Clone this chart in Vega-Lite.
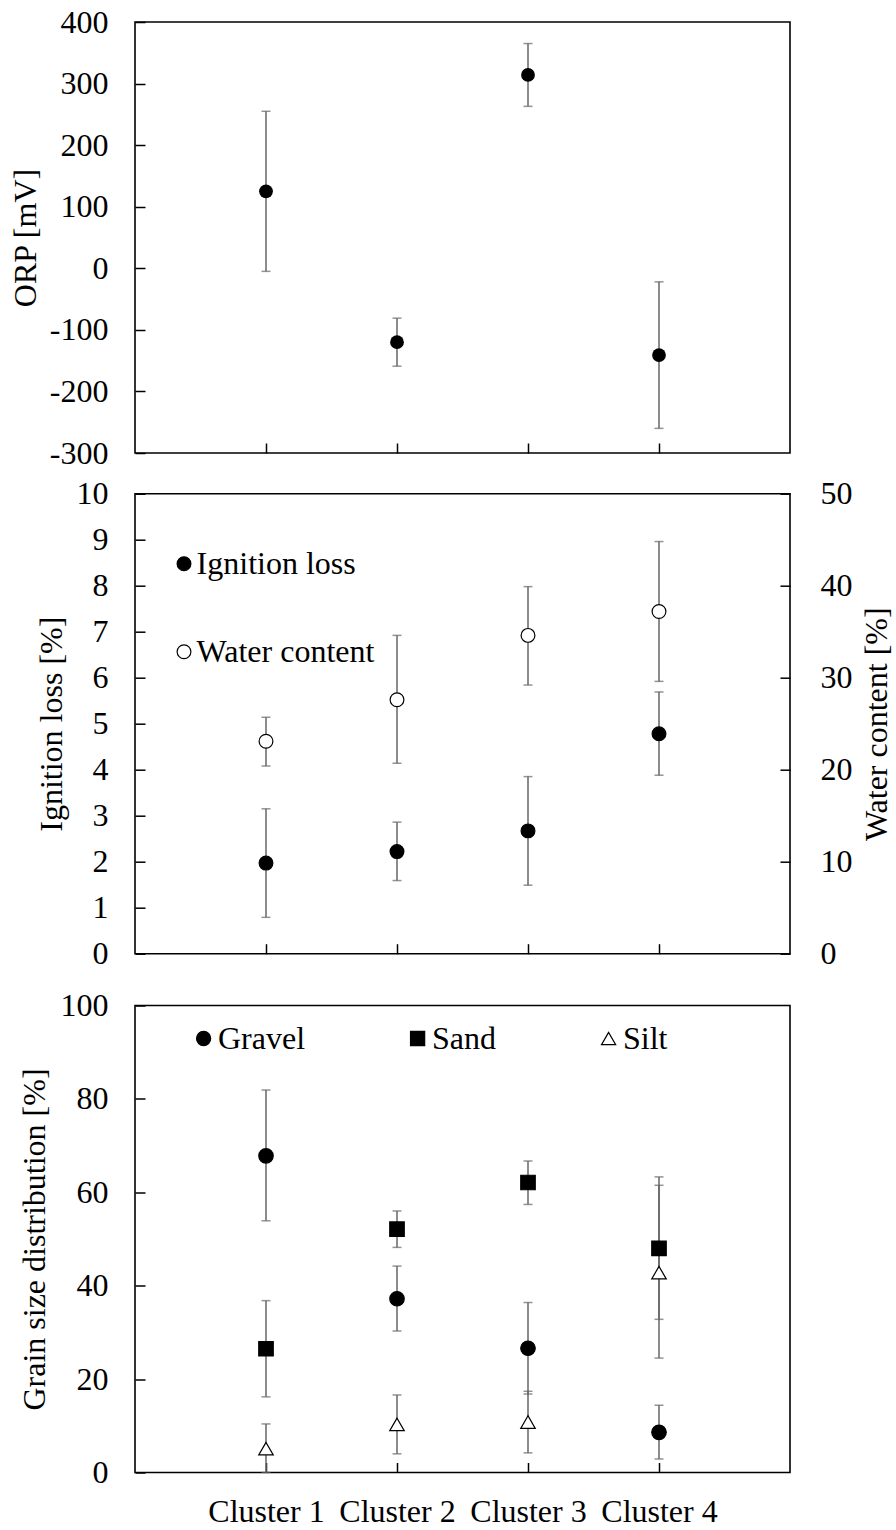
{
  "$schema": "https://vega.github.io/schema/vega-lite/v6.json",
  "background": "white",
  "padding": {"left": 9, "top": 5, "right": 0, "bottom": 0},
  "autosize": {"type": "pad"},
  "config": {
    "font": "Liberation Serif",
    "axis": {
      "labelFont": "Liberation Serif", "labelFontSize": 32, "labelColor": "black",
      "titleFont": "Liberation Serif", "titleFontSize": 32, "titleFontWeight": "normal", "titleColor": "black",
      "tickColor": "black", "tickWidth": 1.5, "tickSize": -10, "tickCap": "butt",
      "domain": false, "grid": false, "labelOverlap": false, "labelFlush": false
    },
    "axisX": {"labelPadding": 34},
    "axisY": {"labelPadding": 37},
    "legend": {
      "labelFont": "Liberation Serif", "labelFontSize": 32, "labelColor": "black", "labelLimit": 400,
      "symbolStrokeColor": "black", "symbolStrokeWidth": 1.2
    },
    "view": {"stroke": "black", "strokeWidth": 1.6}
  },
  "datasets": {
    "orp": [
      {"cluster": "Cluster 1", "orp": 125, "lo": -5, "hi": 255},
      {"cluster": "Cluster 2", "orp": -120, "lo": -159, "hi": -81},
      {"cluster": "Cluster 3", "orp": 314, "lo": 263, "hi": 365},
      {"cluster": "Cluster 4", "orp": -141, "lo": -260, "hi": -22}
    ],
    "soil": [
      {"cluster": "Cluster 1", "measure": "Ignition loss", "value": 1.97, "lo": 0.79, "hi": 3.15},
      {"cluster": "Cluster 2", "measure": "Ignition loss", "value": 2.22, "lo": 1.59, "hi": 2.86},
      {"cluster": "Cluster 3", "measure": "Ignition loss", "value": 2.67, "lo": 1.49, "hi": 3.85},
      {"cluster": "Cluster 4", "measure": "Ignition loss", "value": 4.78, "lo": 3.88, "hi": 5.69},
      {"cluster": "Cluster 1", "measure": "Water content", "value": 23.1, "lo": 20.4, "hi": 25.7},
      {"cluster": "Cluster 2", "measure": "Water content", "value": 27.6, "lo": 20.7, "hi": 34.6},
      {"cluster": "Cluster 3", "measure": "Water content", "value": 34.6, "lo": 29.2, "hi": 39.9},
      {"cluster": "Cluster 4", "measure": "Water content", "value": 37.2, "lo": 29.6, "hi": 44.8}
    ],
    "grain": [
      {"cluster": "Cluster 1", "fraction": "Gravel", "value": 67.8, "lo": 53.9, "hi": 81.9},
      {"cluster": "Cluster 1", "fraction": "Sand", "value": 26.5, "lo": 16.2, "hi": 36.8},
      {"cluster": "Cluster 1", "fraction": "Silt", "value": 5.1, "lo": 0, "hi": 10.4},
      {"cluster": "Cluster 2", "fraction": "Gravel", "value": 37.2, "lo": 30.3, "hi": 44.2},
      {"cluster": "Cluster 2", "fraction": "Sand", "value": 52.1, "lo": 48.2, "hi": 56.0},
      {"cluster": "Cluster 2", "fraction": "Silt", "value": 10.3, "lo": 4.0, "hi": 16.6},
      {"cluster": "Cluster 3", "fraction": "Gravel", "value": 26.6, "lo": 16.8, "hi": 36.4},
      {"cluster": "Cluster 3", "fraction": "Sand", "value": 62.1, "lo": 57.4, "hi": 66.7},
      {"cluster": "Cluster 3", "fraction": "Silt", "value": 10.8, "lo": 4.2, "hi": 17.4},
      {"cluster": "Cluster 4", "fraction": "Gravel", "value": 8.6, "lo": 2.9, "hi": 14.4},
      {"cluster": "Cluster 4", "fraction": "Sand", "value": 48.0, "lo": 32.8, "hi": 63.3},
      {"cluster": "Cluster 4", "fraction": "Silt", "value": 42.8, "lo": 24.5, "hi": 61.5}
    ]
  },
  "spacing": 17.5,
  "resolve": {
    "scale": {"fill": "independent", "shape": "independent", "stroke": "independent"},
    "legend": {"fill": "independent", "shape": "independent", "stroke": "independent"}
  },
  "vconcat": [
    {
      "spacing": 40.7,
      "bounds": "flush",
      "resolve": {
        "scale": {"fill": "independent", "shape": "independent", "stroke": "independent"},
        "legend": {"fill": "independent", "shape": "independent", "stroke": "independent"}
      },
      "vconcat": [
        {
          "width": 655,
          "height": 431,
          "data": {"name": "orp"},
          "layer": [
            {
              "mark": {"type": "errorbar", "ticks": true, "size": 9, "thickness": 1.5, "color": "#666666"},
              "encoding": {
                "x": {"field": "cluster", "type": "nominal", "sort": null, "scale": {"type": "point", "padding": 1}, "axis": {"labels": false, "title": null}},
                "y": {
                  "field": "lo", "type": "quantitative",
                  "scale": {"domain": [-300, 400], "nice": false, "zero": false},
                  "axis": {"title": "ORP [mV]", "values": [-300, -200, -100, 0, 100, 200, 300, 400], "titlePadding": 6.5, "labelExpr": "toString(datum.value)"}
                },
                "y2": {"field": "hi"}
              }
            },
            {
              "mark": {"type": "point", "shape": "circle", "filled": true, "size": 190, "color": "black", "opacity": 1},
              "encoding": {
                "x": {"field": "cluster", "type": "nominal", "sort": null},
                "y": {"field": "orp", "type": "quantitative"}
              }
            }
          ]
        },
        {
          "width": 655,
          "height": 460,
          "data": {"name": "soil"},
          "layer": [
            {
              "transform": [{"filter": "datum.measure === 'Ignition loss'"}],
              "layer": [
                {
                  "mark": {"type": "errorbar", "ticks": true, "size": 9, "thickness": 1.5, "color": "#666666"},
                  "encoding": {
                    "x": {"field": "cluster", "type": "nominal", "sort": null, "scale": {"type": "point", "padding": 1}, "axis": {"labels": false, "title": null}},
                    "y": {
                      "field": "lo", "type": "quantitative",
                      "scale": {"domain": [0, 10], "nice": false, "zero": false},
                      "axis": {"title": "Ignition loss [%]", "values": [0, 1, 2, 3, 4, 5, 6, 7, 8, 9, 10], "titlePadding": 7.5}
                    },
                    "y2": {"field": "hi"}
                  }
                },
                {
                  "mark": {"type": "point", "shape": "circle", "filled": true, "size": 190, "stroke": "black", "strokeWidth": 1.2, "opacity": 1},
                  "encoding": {
                    "x": {"field": "cluster", "type": "nominal", "sort": null},
                    "y": {"field": "value", "type": "quantitative"},
                    "fill": {
                      "field": "measure", "type": "nominal",
                      "scale": {"domain": ["Ignition loss", "Water content"], "range": ["black", "white"]},
                      "legend": {"title": null, "orient": "none", "legendX": 33, "legendY": 54, "direction": "vertical", "rowPadding": 56, "labelOffset": -3.4, "symbolType": "circle", "symbolSize": 190, "symbolStrokeColor": "black", "symbolStrokeWidth": 1.2}
                    }
                  }
                }
              ]
            },
            {
              "transform": [{"filter": "datum.measure === 'Water content'"}],
              "layer": [
                {
                  "mark": {"type": "errorbar", "ticks": true, "size": 9, "thickness": 1.5, "color": "#666666"},
                  "encoding": {
                    "x": {"field": "cluster", "type": "nominal", "sort": null},
                    "y": {
                      "field": "lo", "type": "quantitative",
                      "scale": {"domain": [0, 50], "nice": false, "zero": false},
                      "axis": {"orient": "right", "title": "Water content [%]", "values": [0, 10, 20, 30, 40, 50], "labelPadding": 40, "labelAlign": "left", "titlePadding": 9, "titleAngle": 270, "titleBaseline": "top"}
                    },
                    "y2": {"field": "hi"}
                  }
                },
                {
                  "mark": {"type": "point", "shape": "circle", "filled": true, "size": 190, "stroke": "black", "strokeWidth": 1.2, "opacity": 1},
                  "encoding": {
                    "x": {"field": "cluster", "type": "nominal", "sort": null},
                    "y": {"field": "value", "type": "quantitative"},
                    "fill": {"field": "measure", "type": "nominal"}
                  }
                }
              ]
            }
          ],
          "resolve": {"scale": {"y": "independent"}}
        }
      ]
    },
    {
      "width": 655,
      "height": 467,
      "data": {"name": "grain"},
      "layer": [
        {
          "mark": {"type": "errorbar", "ticks": true, "size": 9, "thickness": 1.5, "color": "#666666"},
          "encoding": {
            "x": {"field": "cluster", "type": "nominal", "sort": null, "scale": {"type": "point", "padding": 1}, "axis": {"title": null, "labelAngle": 0}},
            "y": {
              "field": "lo", "type": "quantitative",
              "scale": {"domain": [0, 100], "nice": false, "zero": false},
              "axis": {"title": "Grain size distribution [%]", "values": [0, 20, 40, 60, 80, 100], "titlePadding": 9}
            },
            "y2": {"field": "hi"}
          }
        },
        {
          "mark": {"type": "point", "filled": true, "size": 210, "strokeWidth": 1.2, "opacity": 1},
          "encoding": {
            "x": {"field": "cluster", "type": "nominal", "sort": null},
            "y": {"field": "value", "type": "quantitative"},
            "shape": {
              "field": "fraction", "type": "nominal",
              "scale": {"domain": ["Gravel", "Sand", "Silt"], "range": ["circle", "square", "triangle-up"]},
              "legend": {"title": null, "orient": "none", "legendX": 52.6, "legendY": 17, "direction": "horizontal", "columnPadding": 96, "labelOffset": -1.6, "symbolSize": 200, "symbolStrokeWidth": 1.2}
            },
            "fill": {
              "field": "fraction", "type": "nominal",
              "scale": {"domain": ["Gravel", "Sand", "Silt"], "range": ["black", "black", "white"]},
              "legend": {"title": null, "orient": "none", "legendX": 52.6, "legendY": 17, "direction": "horizontal", "columnPadding": 96, "labelOffset": -1.6, "symbolSize": 200, "symbolStrokeWidth": 1.2}
            },
            "stroke": {
              "field": "fraction", "type": "nominal",
              "scale": {"domain": ["Gravel", "Sand", "Silt"], "range": ["black", "black", "black"]},
              "legend": {"title": null, "orient": "none", "legendX": 52.6, "legendY": 17, "direction": "horizontal", "columnPadding": 96, "labelOffset": -1.6, "symbolSize": 200, "symbolStrokeWidth": 1.2}
            }
          }
        }
      ]
    }
  ]
}
